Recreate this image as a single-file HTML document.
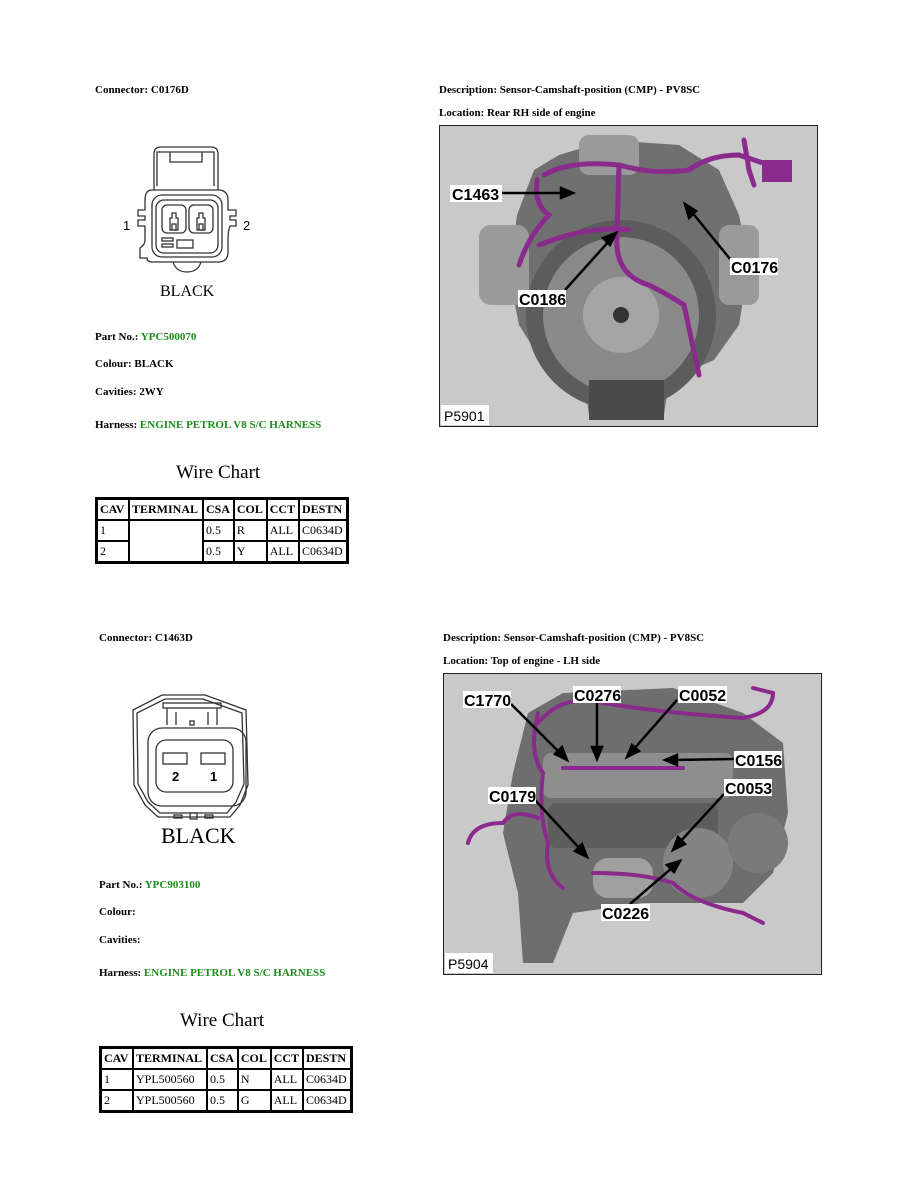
<!DOCTYPE html>
<html><head><meta charset="utf-8">
<style>
body{margin:0;width:918px;height:1188px;background:#fff;position:relative;overflow:hidden;font-family:"Liberation Serif",serif;}
.t{position:absolute;font-size:11px;font-weight:bold;color:#000;white-space:nowrap;line-height:13px;}
.g{color:#1c8c1c;}
.wc{position:absolute;font-size:19px;color:#000;white-space:nowrap;}
table{position:absolute;border-collapse:collapse;border:3px solid #000;font-size:12px;background:#fff;}
td{border:2px solid #000;padding:0 2px;height:19px;line-height:19px;white-space:nowrap;}
th{border:2px solid #000;padding:0 2px;height:19px;font-weight:bold;text-align:left;white-space:nowrap;}
svg{position:absolute;}
</style></head><body>

<div class="t" style="left:95px;top:84px">Connector: C0176D</div>
<div class="t" style="left:439px;top:84px">Description: Sensor-Camshaft-position (CMP) - PV8SC</div>
<div class="t" style="left:439px;top:107px">Location: Rear RH side of engine</div>

<svg style="left:90px;top:130px" width="280" height="180" viewBox="0 0 280 180">
<g fill="none" stroke="#333" stroke-width="1.3">
<path d="M64 60 V24 Q64 17 71 17 H121 Q128 17 128 24 V60"/>
<path d="M67 56 V22 H124 V56"/>
<path d="M80 22 V32 H112 V22"/>
<path d="M62 60 Q55 60 55 70 V80 H48 V86 H55 V90 H48 V96 H55 V110 Q55 115 50 118 V128 H57 Q57 132 62 132 H128 Q138 132 138 122 V110 Q138 100 140 96 H146 V90 H140 V86 H146 V80 H138 V70 Q138 60 128 60 Z"/>
<rect x="62" y="65" width="70" height="62" rx="10"/>
<rect x="66" y="70" width="62" height="53" rx="8"/>
<rect x="72" y="75" width="24" height="28" rx="5"/>
<rect x="99" y="75" width="24" height="28" rx="5"/>
<path d="M80 100 V88 H82 V83 H86 V88 H88 V100 Z"/>
<path d="M107 100 V88 H109 V83 H113 V88 H115 V100 Z"/>
<rect x="82" y="94" width="4" height="6"/><rect x="109" y="94" width="4" height="6"/>
<rect x="72" y="108" width="11" height="3"/><rect x="72" y="114" width="11" height="3"/>
<rect x="87" y="110" width="16" height="8"/>
<path d="M83 132 Q86 142 97 142 Q108 142 111 132"/>
</g>
<text x="33" y="100" font-size="13" font-family="Liberation Sans">1</text>
<text x="153" y="100" font-size="13" font-family="Liberation Sans">2</text>
<text x="70" y="166" font-size="16" font-family="Liberation Serif">BLACK</text>
</svg>

<div class="t" style="left:95px;top:331px">Part No.: <span class="g">YPC500070</span></div>
<div class="t" style="left:95px;top:358px">Colour: BLACK</div>
<div class="t" style="left:95px;top:386px">Cavities: 2WY</div>
<div class="t" style="left:95px;top:419px">Harness: <span class="g">ENGINE PETROL V8 S/C HARNESS</span></div>
<div class="wc" style="left:176px;top:462px">Wire Chart</div>

<table style="left:95px;top:497px;width:254px">
<tr><th style="width:26px">CAV</th><th>TERMINAL</th><th>CSA</th><th>COL</th><th>CCT</th><th>DESTN</th></tr>
<tr><td>1</td><td rowspan="2"></td><td>0.5</td><td>R</td><td>ALL</td><td>C0634D</td></tr>
<tr><td>2</td><td>0.5</td><td>Y</td><td>ALL</td><td>C0634D</td></tr>
</table>

<!-- Photo 1 -->
<svg style="left:439px;top:125px" width="380" height="303" viewBox="0 0 380 303">
<rect x="0.5" y="0.5" width="378" height="301" fill="#c9c9c9" stroke="#222"/>
<g fill="#707070">
<path d="M95 45 L120 30 L170 15 L240 20 L280 45 L300 90 L310 140 L300 200 L275 235 L230 255 L225 290 L150 290 L145 255 L105 240 L80 200 L70 150 L78 90 Z"/>
</g>
<g fill="#9a9a9a">
<rect x="140" y="10" width="60" height="40" rx="10"/>
<rect x="40" y="100" width="50" height="80" rx="12"/>
<rect x="280" y="100" width="40" height="80" rx="10"/>
</g>
<circle cx="182" cy="190" r="95" fill="#5c5c5c"/>
<circle cx="182" cy="190" r="78" fill="#8a8a8a"/>
<circle cx="182" cy="190" r="38" fill="#a5a5a5"/>
<circle cx="182" cy="190" r="8" fill="#333"/>
<rect x="150" y="255" width="75" height="40" fill="#4a4a4a"/>
<g fill="none" stroke="#8a2a8c" stroke-width="5" stroke-linecap="round">
<path d="M105 50 Q130 35 180 40 Q215 50 250 45 Q270 30 300 30 L330 40"/>
<path d="M98 55 Q95 80 110 90 Q90 110 80 140"/>
<path d="M180 40 L178 110 Q175 150 210 160 Q230 170 245 180 L260 250"/>
<path d="M100 120 Q150 100 190 105"/>
<path d="M305 15 L310 45 L315 60"/>
</g>
<rect x="323" y="35" width="30" height="22" fill="#8a2a8c"/>
<g stroke="#000" stroke-width="2.5" fill="#000">
<line x1="63" y1="68" x2="126" y2="68"/><polygon points="134,68 122,63 122,73"/>
<line x1="291" y1="134" x2="252" y2="86"/><polygon points="246,79 250,93 257,86"/>
<line x1="126" y1="165" x2="171" y2="115"/><polygon points="177,108 164,113 171,120"/>
</g>
<g font-family="Liberation Sans" font-weight="bold" font-size="16">
<rect x="11" y="60" width="52" height="17" fill="#fff"/><text x="13" y="75">C1463</text>
<rect x="291" y="133" width="48" height="17" fill="#fff"/><text x="292" y="148">C0176</text>
<rect x="79" y="165" width="48" height="17" fill="#fff"/><text x="80" y="180">C0186</text>
</g>
<rect x="2" y="280" width="48" height="20" fill="#fff"/>
<text x="5" y="296" font-family="Liberation Sans" font-size="14">P5901</text>
</svg>

<!-- Section 2 -->
<div class="t" style="left:99px;top:632px">Connector: C1463D</div>
<div class="t" style="left:443px;top:632px">Description: Sensor-Camshaft-position (CMP) - PV8SC</div>
<div class="t" style="left:443px;top:655px">Location: Top of engine - LH side</div>

<svg style="left:90px;top:680px" width="280" height="170" viewBox="0 0 280 170">
<g fill="none" stroke="#333" stroke-width="1.3">
<path d="M72 15 H115 L156 30 L158 105 L150 125 L140 137 H68 L55 125 L44 105 L43 30 Z"/>
<path d="M75 19 H113 L152 33 L154 104 L146 122 L137 133 H70 L58 122 L48 104 L47 33 Z"/>
<rect x="73" y="23" width="58" height="5"/>
<path d="M77 28 V45 M127 28 V45 M86 32 V45 M118 32 V45"/>
<rect x="100" y="41" width="4" height="4"/>
<rect x="58" y="48" width="98" height="78" rx="14"/>
<rect x="66" y="60" width="77" height="52" rx="10"/>
<rect x="73" y="73" width="24" height="11"/><rect x="111" y="73" width="24" height="11"/>
<rect x="84" y="135" width="8" height="3"/><rect x="100" y="133" width="7" height="6"/><rect x="115" y="135" width="8" height="3"/>
</g>
<text x="82" y="101" font-size="13" font-weight="bold" font-family="Liberation Sans">2</text>
<text x="120" y="101" font-size="13" font-weight="bold" font-family="Liberation Sans">1</text>
<text x="71" y="163" font-size="22" font-family="Liberation Serif">BLACK</text>
</svg>

<div class="t" style="left:99px;top:879px">Part No.: <span class="g">YPC903100</span></div>
<div class="t" style="left:99px;top:906px">Colour:</div>
<div class="t" style="left:99px;top:934px">Cavities:</div>
<div class="t" style="left:99px;top:967px">Harness: <span class="g">ENGINE PETROL V8 S/C HARNESS</span></div>
<div class="wc" style="left:180px;top:1010px">Wire Chart</div>

<table style="left:99px;top:1046px;width:254px">
<tr><th style="width:26px">CAV</th><th>TERMINAL</th><th>CSA</th><th>COL</th><th>CCT</th><th>DESTN</th></tr>
<tr><td>1</td><td>YPL500560</td><td>0.5</td><td>N</td><td>ALL</td><td>C0634D</td></tr>
<tr><td>2</td><td>YPL500560</td><td>0.5</td><td>G</td><td>ALL</td><td>C0634D</td></tr>
</table>

<!-- Photo 2 -->
<svg style="left:443px;top:673px" width="380" height="303" viewBox="0 0 380 303">
<rect x="0.5" y="0.5" width="378" height="301" fill="#c9c9c9" stroke="#222"/>
<path d="M85 40 L120 20 L230 15 L300 40 L340 70 L345 140 L330 200 L300 230 L230 230 L200 230 L130 240 L110 290 L80 290 L75 220 L60 160 L70 100 Z" fill="#6e6e6e"/>
<rect x="100" y="80" width="190" height="45" rx="8" fill="#8e8e8e"/>
<rect x="105" y="130" width="170" height="45" rx="8" fill="#5d5d5d"/>
<rect x="150" y="185" width="60" height="40" rx="15" fill="#a0a0a0"/>
<circle cx="255" cy="190" r="35" fill="#848484"/>
<circle cx="315" cy="170" r="30" fill="#7a7a7a"/>
<g fill="none" stroke="#8a2a8c" stroke-width="4" stroke-linecap="round">
<path d="M95 50 Q120 20 160 30 Q220 40 300 45 Q330 40 330 20 L310 15"/>
<path d="M95 40 Q85 80 100 100 Q95 140 105 170 Q100 200 120 215"/>
<path d="M120 95 H240"/>
<path d="M95 145 Q70 135 60 150 Q30 150 25 170"/>
<path d="M150 200 Q200 200 230 210 Q250 230 300 240 L320 250"/>
</g>
<g stroke="#000" stroke-width="2.5" fill="#000">
<line x1="68" y1="31" x2="118" y2="81"/><polygon points="124,87 119,74 112,81"/>
<line x1="154" y1="30" x2="154" y2="77"/><polygon points="154,86 149,74 159,74"/>
<line x1="234" y1="27" x2="190" y2="77"/><polygon points="184,84 196,78 189,72"/>
<line x1="291" y1="86" x2="230" y2="87"/><polygon points="222,87 234,82 234,92"/>
<line x1="281" y1="121" x2="236" y2="170"/><polygon points="230,177 242,171 235,164"/>
<line x1="92" y1="127" x2="138" y2="177"/><polygon points="144,184 139,171 132,178"/>
<line x1="187" y1="231" x2="230" y2="194"/><polygon points="237,188 224,192 231,199"/>
</g>
<g font-family="Liberation Sans" font-weight="bold" font-size="16">
<rect x="20" y="18" width="48" height="17" fill="#fff"/><text x="21" y="33">C1770</text>
<rect x="130" y="13" width="48" height="17" fill="#fff"/><text x="131" y="28">C0276</text>
<rect x="235" y="13" width="49" height="17" fill="#fff"/><text x="236" y="28">C0052</text>
<rect x="291" y="78" width="48" height="17" fill="#fff"/><text x="292" y="93">C0156</text>
<rect x="281" y="106" width="48" height="17" fill="#fff"/><text x="282" y="121">C0053</text>
<rect x="45" y="114" width="48" height="17" fill="#fff"/><text x="46" y="129">C0179</text>
<rect x="158" y="231" width="49" height="17" fill="#fff"/><text x="159" y="246">C0226</text>
</g>
<rect x="2" y="280" width="48" height="20" fill="#fff"/>
<text x="5" y="296" font-family="Liberation Sans" font-size="14">P5904</text>
</svg>

</body></html>
